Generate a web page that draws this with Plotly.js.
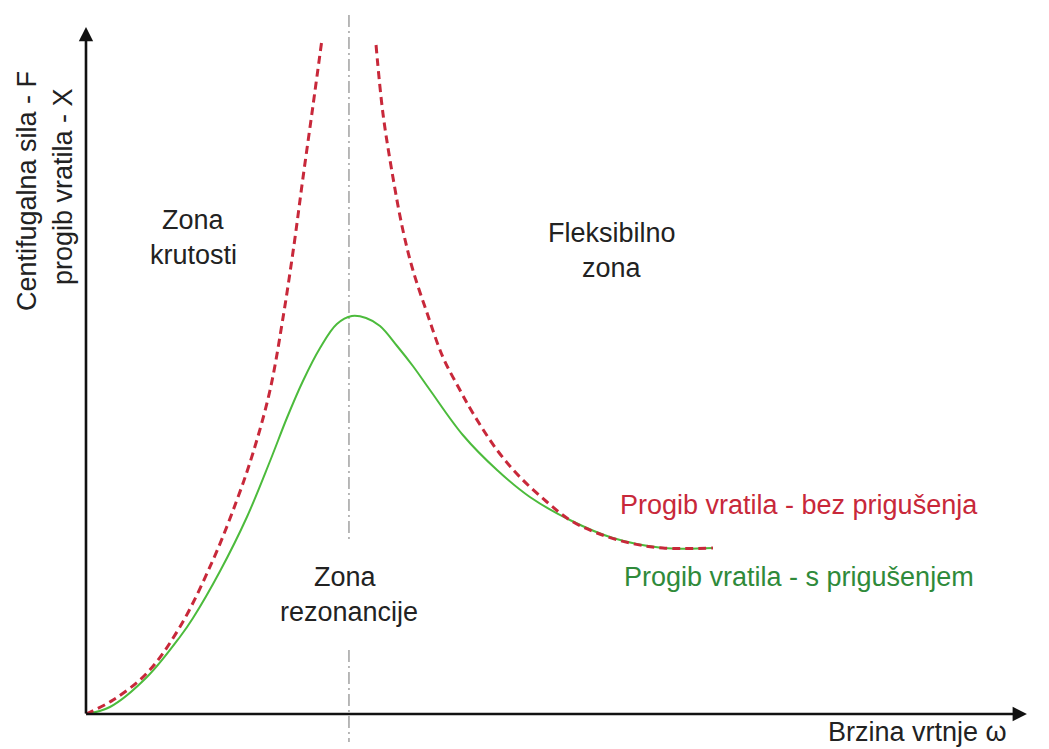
<!DOCTYPE html>
<html>
<head>
<meta charset="utf-8">
<script src="https://cdn.plot.ly/plotly-3.0.1.min.js"></script>
<style>html,body{margin:0;padding:0;background:#fff;}#chart{width:1049px;height:749px;}</style>
</head>
<body>
<div id="chart"></div>
<script>
// Omega normalised to resonance (omega / omega_n), amplitude in arbitrary units
const redLeftX  = [0, 0.103, 0.232, 0.357, 0.483, 0.574, 0.635, 0.700, 0.749, 0.791, 0.825, 0.863, 0.897];
const redLeftY  = [0, 0.14, 0.41, 0.87, 1.54, 2.14, 2.61, 3.24, 3.96, 4.69, 5.36, 6.08, 6.74];
const redRightX = [1.103, 1.129, 1.167, 1.205, 1.243, 1.297, 1.357, 1.422, 1.471, 1.563, 1.650, 1.753, 1.840, 1.943, 2.068, 2.194, 2.384];
const redRightY = [6.69, 6.01, 5.37, 4.84, 4.44, 4.01, 3.57, 3.24, 3.01, 2.64, 2.37, 2.12, 1.94, 1.81, 1.71, 1.66, 1.66];
const greenX = [0, 0.091, 0.232, 0.357, 0.407, 0.510, 0.612, 0.700, 0.764, 0.825, 0.890, 0.954, 1.011, 1.065, 1.118, 1.183, 1.243, 1.308, 1.433, 1.563, 1.688, 1.840, 2.004, 2.194, 2.384];
const greenY = [0, 0.07, 0.37, 0.77, 0.96, 1.43, 1.97, 2.53, 2.96, 3.33, 3.66, 3.90, 3.98, 3.96, 3.88, 3.68, 3.48, 3.24, 2.79, 2.44, 2.17, 1.94, 1.76, 1.66, 1.66];
const resonanceX = 1.0;

const labelRed = 'Progib vratila - bez prigušenja';
const labelGreen = 'Progib vratila - s prigušenjem';
const xTitle = 'Brzina vrtnje ω';
const yTitle1 = 'Centifugalna sila - F';
const yTitle2 = 'progib vratila - X';

const RED = '#c8283a';
const GREEN = '#4cbb3c';
const FONT = 'Liberation Sans, Arial, sans-serif';
const FS = 27;

const traces = [
  {x: [resonanceX, resonanceX], y: [6.99, 1.74], mode: 'lines', line: {color: '#8a8a8a', width: 1.2, dash: '12px,4px,2px,4px'}, hoverinfo: 'skip'},
  {x: [resonanceX, resonanceX], y: [0.64, -0.28], mode: 'lines', line: {color: '#8a8a8a', width: 1.2, dash: '12px,4px,2px,4px'}, hoverinfo: 'skip'},
  {x: greenX, y: greenY, mode: 'lines', line: {color: GREEN, width: 2, shape: 'spline', smoothing: 1}, name: labelGreen},
  {x: redLeftX, y: redLeftY, mode: 'lines', line: {color: RED, width: 3, dash: '8px,5px', shape: 'spline', smoothing: 1}, name: labelRed},
  {x: redRightX, y: redRightY, mode: 'lines', line: {color: RED, width: 3, dash: '8px,5px', shape: 'spline', smoothing: 1}, name: labelRed}
];

function txt(x, y, text, color, extra) {
  return Object.assign({x: x, y: y, xref: 'x', yref: 'y', text: text, showarrow: false,
    font: {family: FONT, size: FS, color: color || '#222'}, xanchor: 'center', yanchor: 'middle'}, extra || {});
}

const annotations = [
  {x: 3.578, y: 0, ax: -0.005, ay: 0, xref: 'x', yref: 'y', axref: 'x', ayref: 'y', text: '', showarrow: true,
   arrowhead: 2, arrowsize: 1.1, arrowwidth: 2.6, arrowcolor: '#111'},
  {x: 0, y: 6.87, ax: 0, ay: -0.01, xref: 'x', yref: 'y', axref: 'x', ayref: 'y', text: '', showarrow: true,
   arrowhead: 2, arrowsize: 1.1, arrowwidth: 2.6, arrowcolor: '#111'},
  txt(0.407, 4.94, 'Zona'),
  txt(0.407, 4.59, 'krutosti'),
  txt(2.0, 4.81, 'Fleksibilno'),
  txt(2.0, 4.46, 'zona'),
  txt(0.985, 1.37, 'Zona'),
  txt(1.0, 1.02, 'rezonancije'),
  txt(2.711, 2.09, labelRed, RED),
  txt(2.711, 1.37, labelGreen, '#2f8a3a'),
  txt(3.163, -0.18, xTitle),
  txt(-0.224, 5.23, yTitle1, '#222', {textangle: -90}),
  txt(-0.087, 5.27, yTitle2, '#222', {textangle: -90})
];

const layout = {
  width: 1049, height: 749,
  margin: {l: 0, r: 0, t: 0, b: 0, pad: 0},
  paper_bgcolor: '#fff', plot_bgcolor: '#fff',
  showlegend: false,
  xaxis: {visible: false, range: [-0.327, 3.662], fixedrange: true},
  yaxis: {visible: false, range: [-0.35, 7.14], fixedrange: true},
  annotations: annotations
};

Plotly.newPlot('chart', traces, layout, {displayModeBar: false, staticPlot: true});
</script>
</body>
</html>
